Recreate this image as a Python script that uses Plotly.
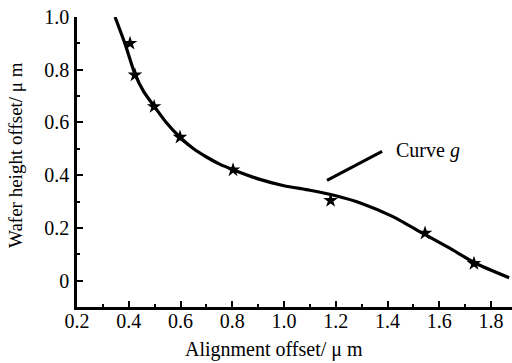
import plotly.graph_objects as go

# Smooth fitted curve
curve_x = [0.347, 0.386, 0.424, 0.459, 0.498, 0.544, 0.598, 0.648, 0.702, 0.753, 0.803,
           0.9, 1.0, 1.1, 1.2, 1.3, 1.421, 1.537, 1.642, 1.742, 1.87]
curve_y = [1.0, 0.897, 0.783, 0.715, 0.662, 0.601, 0.544, 0.502, 0.468, 0.441, 0.421,
           0.386, 0.36, 0.343, 0.322, 0.293, 0.243, 0.179, 0.122, 0.065, 0.011]

# Measured points (stars)
pts_x = [0.405, 0.424, 0.498, 0.598, 0.803, 1.18, 1.545, 1.734]
pts_y = [0.90, 0.78, 0.66, 0.544, 0.42, 0.304, 0.18, 0.065]

x_ticks = [0.2, 0.4, 0.6, 0.8, 1.0, 1.2, 1.4, 1.6, 1.8]
x_tick_text = ["0.2", "0.4", "0.6", "0.8", "1.0", "1.2", "1.4", "1.6", "1.8"]
y_ticks = [0, 0.2, 0.4, 0.6, 0.8, 1.0]
y_tick_text = ["0", "0.2", "0.4", "0.6", "0.8", "1.0"]

label_line_x = [1.166, 1.379]
label_line_y = [0.38, 0.49]

FONT = "Liberation Serif"

fig = go.Figure()
fig.add_trace(go.Scatter(x=curve_x, y=curve_y, mode="lines",
                         line=dict(color="black", width=3.2, shape="spline", smoothing=0.6),
                         showlegend=False, hoverinfo="skip"))
fig.add_trace(go.Scatter(x=pts_x, y=pts_y, mode="markers",
                         marker=dict(symbol="star", size=11, color="black"),
                         showlegend=False, cliponaxis=False))
fig.add_trace(go.Scatter(x=label_line_x, y=label_line_y, mode="lines",
                         line=dict(color="black", width=3), showlegend=False))

fig.add_annotation(x=1.425, y=0.494, text="Curve <i>g</i>", showarrow=False,
                   xanchor="left", yanchor="middle", font=dict(size=20, color="black", family=FONT))
fig.add_annotation(xref="paper", yref="paper", x=(274 - 77) / 435, y=-(349 - 307) / 290,
                   text="Alignment offset/ μ m", showarrow=False,
                   xanchor="center", yanchor="middle", font=dict(size=20, color="black", family=FONT))
fig.add_annotation(xref="paper", yref="paper", x=-(77 - 15) / 435, y=(307 - 155) / 290,
                   text="Wafer height offset/ μ m", showarrow=False, textangle=-90,
                   xanchor="center", yanchor="middle", font=dict(size=19, color="black", family=FONT))

axis_common = dict(showgrid=False, zeroline=False, showline=True, linecolor="black",
                   linewidth=2.5, ticks="inside", ticklen=6, tickwidth=2, tickcolor="black",
                   tickfont=dict(size=20, color="black", family=FONT))
fig.update_xaxes(range=[0.2, 1.881], tickvals=x_ticks, ticktext=x_tick_text,
                 minor=dict(ticks="inside", ticklen=3, tickwidth=1.5, tickcolor="black",
                            tickvals=[0.3, 0.5, 0.7, 0.9, 1.1, 1.3, 1.5, 1.7]),
                 ticklabelstandoff=-6, **axis_common)
fig.update_yaxes(range=[-0.1, 1.0], tickvals=y_ticks, ticktext=y_tick_text,
                 minor=dict(ticks="inside", ticklen=3, tickwidth=1.5, tickcolor="black",
                            tickvals=[-0.1, 0.1, 0.3, 0.5, 0.7, 0.9]),
                 ticklabelstandoff=1, **axis_common)
fig.update_layout(width=512, height=363, margin=dict(l=77, r=0, t=17, b=56),
                  paper_bgcolor="white", plot_bgcolor="white", showlegend=False,
                  font=dict(family=FONT, color="black"))
fig.write_html("out.html")
